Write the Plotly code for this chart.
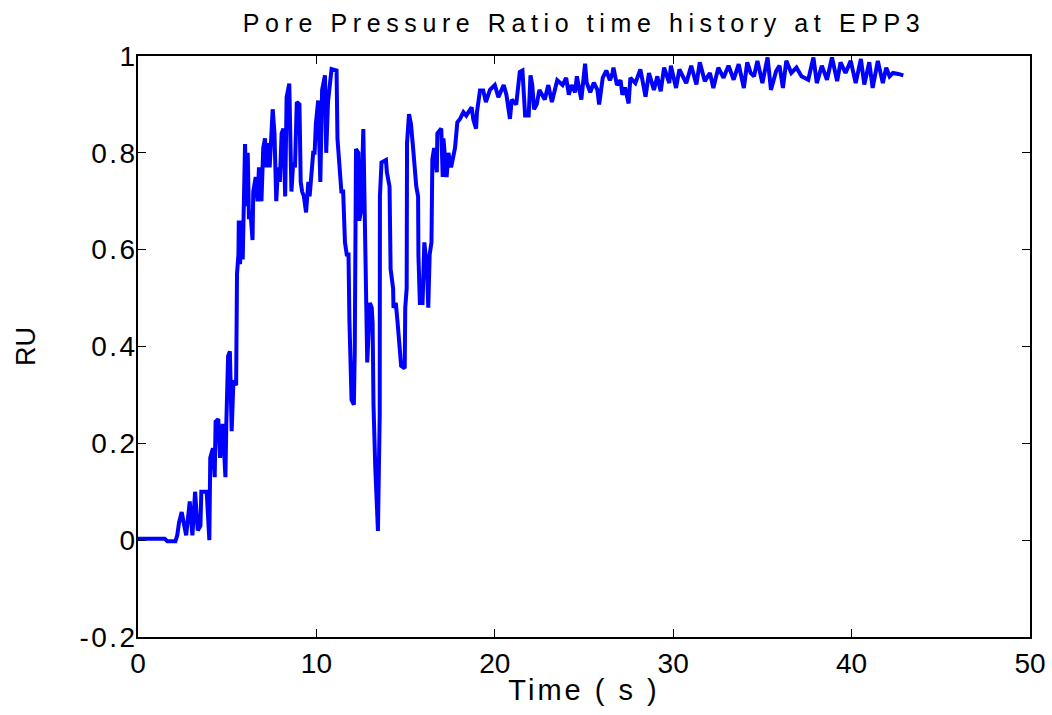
import plotly.graph_objects as go

# ---- data ----
time_s = [
    0.0, 1.5, 1.65, 2.1, 2.2, 2.3, 2.45, 2.6, 2.7, 2.9, 3.05, 3.2, 3.35, 3.5, 3.55, 3.85,
    4.0, 4.05, 4.2, 4.3, 4.35, 4.5, 4.6, 4.75, 4.9, 4.95, 5.05, 5.15, 5.25, 5.35, 5.5,
    5.55, 5.63, 5.65, 5.72, 5.8, 5.87, 6.0, 6.08, 6.15, 6.22, 6.3, 6.42, 6.46, 6.6, 6.7,
    6.78, 6.92, 7.02, 7.12, 7.2, 7.3, 7.38, 7.55, 7.65, 7.75, 7.85, 7.95, 8.05, 8.15,
    8.25, 8.33, 8.48, 8.6, 8.7, 8.8, 8.9, 9.05, 9.12, 9.2, 9.3, 9.42, 9.55, 9.62, 9.72,
    9.82, 9.9, 9.97, 10.1, 10.22, 10.32, 10.48, 10.55, 10.65, 10.85, 11.13, 11.18, 11.32,
    11.4, 11.5, 11.6, 11.7, 11.8, 11.85, 11.97, 12.1, 12.15, 12.22, 12.35, 12.4, 12.5,
    12.63, 12.7, 12.78, 12.85, 13.0, 13.1, 13.15, 13.2, 13.3, 13.38, 13.45, 13.55, 13.56,
    13.65, 13.9, 13.95, 14.1, 14.16, 14.3, 14.32, 14.45, 14.55, 14.62, 14.75, 14.95,
    14.98, 15.06, 15.08, 15.19, 15.3, 15.42, 15.5, 15.6, 15.7, 15.72, 15.8, 15.95, 16.05,
    16.2, 16.27, 16.35, 16.45, 16.5, 16.6, 16.75, 16.78, 17.0, 17.08, 17.12, 17.3, 17.4,
    17.55, 17.77, 17.9, 18.05, 18.24, 18.4, 18.7, 18.8, 18.95, 19.0, 19.17, 19.35, 19.5,
    19.73, 20.0, 20.2, 20.5, 20.65, 20.85, 20.95, 21.2, 21.4, 21.55, 21.7, 21.9, 22.0,
    22.1, 22.2, 22.35, 22.5, 22.8, 23.0, 23.2, 23.5, 23.8, 24.0, 24.15, 24.3, 24.5, 24.6,
    24.85, 25.06, 25.15, 25.35, 25.55, 25.75, 25.85, 26.05, 26.25, 26.45, 26.6, 26.65,
    26.85, 27.05, 27.15, 27.3, 27.5, 27.6, 27.88, 28.16, 28.45, 28.64, 28.92, 29.11, 29.3,
    29.49, 29.78, 29.87, 30.16, 30.35, 30.54, 30.73, 31.01, 31.3, 31.49, 31.77, 32.06,
    32.25, 32.53, 32.82, 33.1, 33.39, 33.67, 33.96, 34.15, 34.34, 34.53, 34.72, 35.0,
    35.29, 35.48, 35.77, 35.96, 36.15, 36.34, 36.62, 36.91, 37.19, 37.57, 37.86, 38.05,
    38.33, 38.62, 38.9, 39.19, 39.38, 39.66, 39.95, 40.23, 40.52, 40.71, 40.99, 41.18,
    41.47, 41.75, 41.94, 42.13, 42.32, 42.61, 42.9,
]
ru = [
    0.003, 0.003, -0.002, -0.002, 0.01, 0.036, 0.058, 0.03, 0.01, 0.08, 0.01, 0.10, 0.02,
    0.03, 0.10, 0.10, 0.0, 0.17, 0.19, 0.13, 0.245, 0.25, 0.17, 0.24, 0.13, 0.24, 0.38,
    0.39, 0.225, 0.33, 0.32, 0.55, 0.59, 0.66, 0.57, 0.66, 0.58, 0.818, 0.69, 0.80, 0.663,
    0.68, 0.62, 0.72, 0.75, 0.70, 0.77, 0.70, 0.81, 0.83, 0.77, 0.82, 0.77, 0.89, 0.84,
    0.70, 0.77, 0.74, 0.84, 0.85, 0.71, 0.915, 0.943, 0.72, 0.78, 0.77, 0.905, 0.90, 0.74,
    0.72, 0.71, 0.677, 0.74, 0.71, 0.77, 0.80, 0.80, 0.86, 0.908, 0.74, 0.93, 0.96, 0.80,
    0.905, 0.973, 0.97, 0.83, 0.767, 0.72, 0.72, 0.615, 0.59, 0.59, 0.455, 0.29, 0.28,
    0.39, 0.808, 0.80, 0.66, 0.68, 0.849, 0.71, 0.49, 0.367, 0.49, 0.48, 0.45, 0.28, 0.15,
    0.075, 0.019, 0.26, 0.71, 0.78, 0.785, 0.76, 0.73, 0.56, 0.52, 0.48, 0.49, 0.45, 0.41,
    0.36, 0.355, 0.48, 0.52, 0.82, 0.88, 0.86, 0.81, 0.76, 0.73, 0.71, 0.587, 0.49, 0.49,
    0.615, 0.56, 0.48, 0.59, 0.615, 0.787, 0.81, 0.76, 0.84, 0.85, 0.75, 0.83, 0.75, 0.80,
    0.77, 0.81, 0.863, 0.87, 0.884, 0.877, 0.894, 0.868, 0.85, 0.884, 0.929, 0.929, 0.905,
    0.93, 0.94, 0.915, 0.94, 0.92, 0.87, 0.91, 0.90, 0.967, 0.97, 0.877, 0.877, 0.96,
    0.94, 0.89, 0.90, 0.93, 0.91, 0.94, 0.905, 0.95, 0.94, 0.955, 0.92, 0.94, 0.925,
    0.958, 0.91, 0.984, 0.945, 0.925, 0.945, 0.93, 0.90, 0.955, 0.97, 0.95, 0.965, 0.976,
    0.94, 0.95, 0.92, 0.935, 0.902, 0.955, 0.944, 0.9725, 0.916, 0.965, 0.930, 0.958,
    0.927, 0.976, 0.944, 0.980, 0.934, 0.9725, 0.958, 0.944, 0.980, 0.941, 0.987, 0.948,
    0.965, 0.934, 0.976, 0.955, 0.980, 0.951, 0.983, 0.934, 0.987, 0.965, 0.958, 0.990,
    0.944, 0.997, 0.930, 0.969, 0.980, 0.934, 0.990, 0.965, 0.976, 0.958, 0.951, 0.997,
    0.944, 0.980, 0.951, 0.997, 0.948, 0.987, 0.965, 0.990, 0.944, 0.994, 0.941, 0.987,
    0.934, 0.990, 0.944, 0.976, 0.958, 0.965, 0.963, 0.96,
]

x_ticks = [0, 10, 20, 30, 40, 50]
x_tick_labels = ["0", "10", "20", "30", "40", "50"]
y_ticks = [-0.2, 0, 0.2, 0.4, 0.6, 0.8, 1]
y_tick_labels = ["-0.2", "0", "0.2", "0.4", "0.6", "0.8", "1"]

FONT = "Liberation Sans, Arial, sans-serif"

fig = go.Figure()
fig.add_trace(go.Scatter(
    x=time_s, y=ru, mode="lines",
    line=dict(color="#0000FF", width=4),
    showlegend=False, hoverinfo="skip",
))

axis_common = dict(
    showline=True, linecolor="black", linewidth=1.5, mirror="ticks",
    ticks="inside", ticklen=8, tickwidth=1, tickcolor="black",
    showgrid=False, zeroline=False, automargin=False,
    tickfont=dict(family=FONT, size=28, color="black"),
)

fig.update_layout(
    width=1052, height=715,
    margin=dict(l=138, r=22, t=56, b=78),
    paper_bgcolor="white", plot_bgcolor="white",
    title=dict(
        text="Pore Pressure Ratio time history at EPP3",
        font=dict(family=FONT, size=25, color="black"),
        x=0.5, xref="paper", xanchor="center",
        y=1 - 23 / 715, yref="container", yanchor="middle",
    ),
    xaxis=dict(
        range=[0, 50], tickvals=x_ticks, ticktext=x_tick_labels,
        ticklabelstandoff=1,
        title=dict(text="Time ( s )", font=dict(family=FONT, size=29, color="black"), standoff=1),
        **axis_common,
    ),
    yaxis=dict(
        range=[-0.2, 1], tickvals=y_ticks, ticktext=y_tick_labels,
        ticklabelstandoff=-7,
        title=dict(text="RU", font=dict(family=FONT, size=27, color="black"), standoff=46),
        **axis_common,
    ),
)

post = """
var gd = document.getElementById('{plot_id}');
function spaceText(){
  gd.querySelectorAll('.gtitle').forEach(function(e){ e.style.letterSpacing='5.6px'; });
  gd.querySelectorAll('.ytick text').forEach(function(e){ e.style.letterSpacing='2.5px'; });
  gd.querySelectorAll('.g-xtitle text').forEach(function(e){ e.style.letterSpacing='3px'; });
}
spaceText();
gd.on('plotly_afterplot', spaceText);
"""

fig.write_html("out.html", post_script=post)
